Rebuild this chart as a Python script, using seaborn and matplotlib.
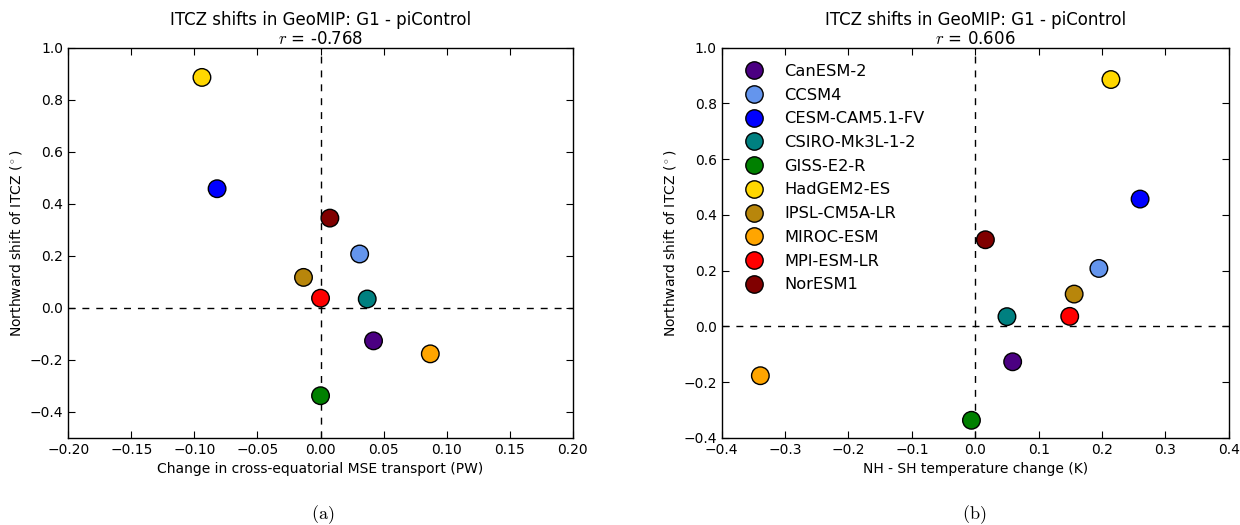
import matplotlib
matplotlib.use("Agg")
import matplotlib.pyplot as plt
import seaborn as sns
import pandas as pd
from matplotlib.lines import Line2D

models = ["CanESM-2", "CCSM4", "CESM-CAM5.1-FV", "CSIRO-Mk3L-1-2", "GISS-E2-R",
          "HadGEM2-ES", "IPSL-CM5A-LR", "MIROC-ESM", "MPI-ESM-LR", "NorESM1"]
colors = ["#4B0082", "#6495ED", "#0000FF", "#008080", "#008000",
          "#FFD700", "#B8860B", "#FFA500", "#FF0000", "#800000"]

# Panel (a)
mse_transport = [0.042, 0.031, -0.082, 0.037, 0.000, -0.094, -0.0135, 0.087, 0.000, 0.0074]
itcz_a = [-0.127, 0.207, 0.458, 0.034, -0.338, 0.886, 0.117, -0.177, 0.037, 0.345]
# Panel (b)
nh_sh_temp = [0.059, 0.195, 0.260, 0.050, -0.006, 0.214, 0.156, -0.339, 0.149, 0.016]
itcz_b = [-0.127, 0.208, 0.457, 0.035, -0.337, 0.886, 0.116, -0.177, 0.036, 0.311]

r_a = "-0.768"
r_b = "0.606"
title = "ITCZ shifts in GeoMIP: G1 - piControl"
xlabel_a = "Change in cross-equatorial MSE transport (PW)"
xlabel_b = "NH - SH temperature change (K)"
ylabel = r"Northward shift of ITCZ ($^\circ$)"

sns.set_style("white")
plt.rcParams.update({
    "font.family": ["DejaVu Sans"],
    "mathtext.fontset": "cm",
    "xtick.direction": "in", "ytick.direction": "in",
    "xtick.top": True, "ytick.right": True,
    "xtick.bottom": True, "ytick.left": True,
    "xtick.major.size": 5, "ytick.major.size": 5,
    "xtick.major.width": 0.8, "ytick.major.width": 0.8,
    "axes.edgecolor": "black", "axes.linewidth": 1.0,
    "xtick.color": "black", "ytick.color": "black",
    "axes.labelcolor": "black", "text.color": "black",
})

palette = dict(zip(models, colors))
df_a = pd.DataFrame({"model": models, "x": mse_transport, "y": itcz_a})
df_b = pd.DataFrame({"model": models, "x": nh_sh_temp, "y": itcz_b})

fig = plt.figure(figsize=(12.4, 5.25), dpi=100)
ax1 = fig.add_axes([0.055, 0.166, 0.407, 0.743])
ax2 = fig.add_axes([0.582, 0.166, 0.409, 0.743])

for ax, df, r, xl in [(ax1, df_a, r_a, xlabel_a), (ax2, df_b, r_b, xlabel_b)]:
    ax.axhline(0, color="black", ls=(0, (5, 5)), lw=1, zorder=1)
    ax.axvline(0, color="black", ls=(0, (5, 5)), lw=1, zorder=1)
    sns.scatterplot(data=df, x="x", y="y", hue="model", palette=palette,
                    s=160, edgecolor="black", linewidth=1, ax=ax,
                    legend=False, zorder=3)
    ax.set_title(title + "\n" + r"$r$ = " + r, fontsize=12, linespacing=1.05, pad=3)
    ax.set_xlabel(xl, fontsize=10)
    ax.set_ylabel(ylabel, fontsize=10)
    ax.tick_params(labelsize=10)

ax1.set_xlim(-0.2, 0.2)
ax1.set_ylim(-0.5, 1.0)
ax1.set_xticks([-0.2, -0.15, -0.1, -0.05, 0.0, 0.05, 0.1, 0.15, 0.2])
ax1.set_xticklabels(["\u22120.20", "\u22120.15", "\u22120.10", "\u22120.05", "0.00",
                     "0.05", "0.10", "0.15", "0.20"])
ax1.set_yticks([-0.4, -0.2, 0.0, 0.2, 0.4, 0.6, 0.8, 1.0])

ax2.set_xlim(-0.4, 0.4)
ax2.set_ylim(-0.4, 1.0)
ax2.set_xticks([-0.4, -0.3, -0.2, -0.1, 0.0, 0.1, 0.2, 0.3, 0.4])
ax2.set_yticks([-0.4, -0.2, 0.0, 0.2, 0.4, 0.6, 0.8, 1.0])

handles = [Line2D([], [], marker="o", ls="none", markersize=12.5,
                  markerfacecolor=c, markeredgecolor="black", markeredgewidth=1)
           for c in colors]
ax2.legend(handles, models, loc="upper left", frameon=False, fontsize=11.7,
           labelspacing=0.535, handletextpad=0.85, borderaxespad=0.55,
           borderpad=0.45, bbox_to_anchor=(0.0, 1.0))

fig.text(0.260, 0.020, r"$\mathrm{(a)}$", ha="center", va="center", fontsize=13)
fig.text(0.786, 0.020, r"$\mathrm{(b)}$", ha="center", va="center", fontsize=13)

fig.savefig("out.png", dpi=100)
